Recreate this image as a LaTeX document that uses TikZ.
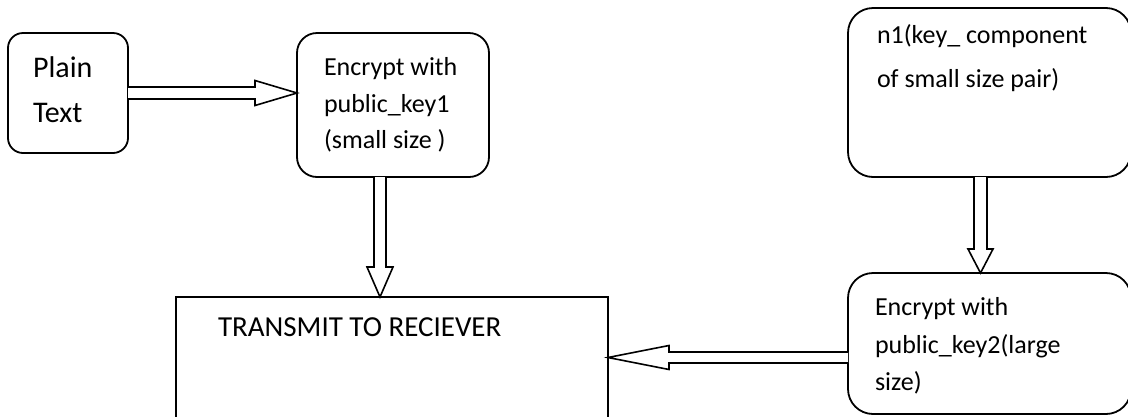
\documentclass[tikz,border=0pt]{standalone}
\usepackage{fontspec}
\setmainfont{Carlito}
\usetikzlibrary{calc}
\begin{document}
\begin{tikzpicture}[x=1pt,y=-1pt,
  box/.style={draw,line width=1.8pt,rounded corners=#1,inner sep=0pt,outer sep=0pt,minimum width=0pt,minimum height=0pt},
  sqbox/.style={draw,line width=1.8pt,sharp corners,inner sep=0pt,outer sep=0pt},
  barrow/.style={draw,line width=1.6pt,line join=miter,fill=white},
  txt/.style={anchor=base west,inner sep=0pt,outer sep=0pt},
  big/.style={txt,font=\fontsize{30pt}{36pt}\selectfont},
  mid/.style={txt,font=\fontsize{26pt}{31pt}\selectfont},
  tall/.style={txt,font=\fontsize{29pt}{35pt}\selectfont}]
\useasboundingbox (0,0) rectangle (1128,416);
\clip (0,0) rectangle (1128,416);

% boxes
\node[box=15pt,minimum width=120pt,minimum height=120pt] (pt) at (68,93) {};
\node[box=20pt,minimum width=192pt,minimum height=144pt] (e1) at (393,105) {};
\node[box=25pt,minimum width=283pt,minimum height=169pt] (n1) at (989.5,92.5) {};
\node[box=25pt,minimum width=283pt,minimum height=141pt] (e2) at (989.5,343.5) {};
\node[sqbox,minimum width=432pt,minimum height=130pt] (tx) at (392,362) {};

% texts
\node[big] (ptA) at (33,77) {Plain};
\node[big] (ptB) at (33,122) {Text};
\node[mid] (e1A) at (324,75) {Encrypt with};
\node[mid] (e1B) at (324,112) {public\_key1};
\node[mid] (e1C) at (324,148) {(small size )};
\node[mid] (n1A) at (877,43) {n1(key\_ component};
\node[mid] (n1B) at (877,87) {of small size pair)};
\node[mid] (e2A) at (875,315) {Encrypt with};
\node[mid] (e2B) at (875,353) {public\_key2(large};
\node[mid] (e2C) at (875,390) {size)};
\node[tall] (txA) at (218,336) {TRANSMIT TO RECIEVER};

% block arrows
% 1: Plain Text -> Encrypt 1
\coordinate (t1) at (e1.west |- pt.east);
\draw[barrow] ($(pt.east)+(0,-6)$) -- ($(t1)+(-42,-6)$) -- ($(t1)+(-42,-12.5)$) -- (t1)
  -- ($(t1)+(-42,12.5)$) -- ($(t1)+(-42,6)$) -- ($(pt.east)+(0,6)$);
% 2: Encrypt 1 -> Transmit
\coordinate (c2) at (380,0);
\coordinate (s2) at (c2 |- e1.south);
\coordinate (t2) at (c2 |- tx.north);
\draw[barrow] ($(s2)+(-6,0)$) -- ($(t2)+(-6,-30)$) -- ($(t2)+(-13,-30)$) -- (t2)
  -- ($(t2)+(13,-30)$) -- ($(t2)+(6,-30)$) -- ($(s2)+(6,0)$);
% 3: n1 -> Encrypt 2
\coordinate (c3) at (980.5,0);
\coordinate (s3) at (c3 |- n1.south);
\coordinate (t3) at (c3 |- e2.north);
\draw[barrow] ($(s3)+(-6.5,0)$) -- ($(t3)+(-6.5,-24)$) -- ($(t3)+(-12.5,-24)$) -- (t3)
  -- ($(t3)+(12.5,-24)$) -- ($(t3)+(6.5,-24)$) -- ($(s3)+(6.5,0)$);
% 4: Encrypt 2 -> Transmit
\coordinate (c4) at (0,357.5);
\coordinate (s4) at (e2.west |- c4);
\coordinate (t4) at (tx.east |- c4);
\draw[barrow] ($(s4)+(0,-5.5)$) -- ($(t4)+(61,-5.5)$) -- ($(t4)+(61,-12)$) -- (t4)
  -- ($(t4)+(61,12)$) -- ($(t4)+(61,5.5)$) -- ($(s4)+(0,5.5)$);
\end{tikzpicture}
\end{document}
